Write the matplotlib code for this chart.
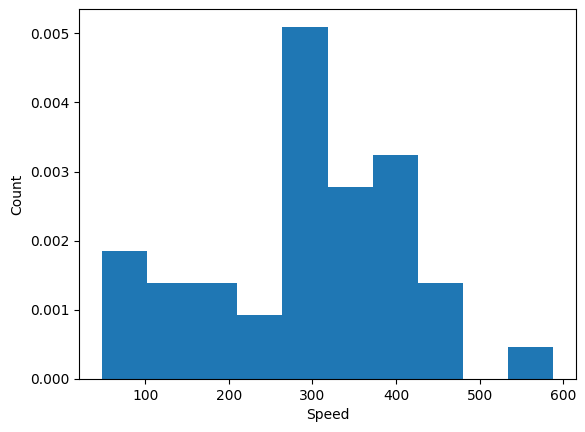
import matplotlib
matplotlib.use("Agg")
import matplotlib.pyplot as plt
import numpy as np

bin_edges = [48, 102, 156, 210, 264, 318, 372, 426, 480, 534, 588]
counts = [4, 3, 3, 2, 11, 6, 7, 3, 0, 1]

centers = [(a + b) / 2 for a, b in zip(bin_edges[:-1], bin_edges[1:])]

fig = plt.figure(figsize=(5.85, 4.32), dpi=100)
ax = fig.add_axes([79.3 / 585, (432 - 379) / 432, (575.7 - 79.3) / 585, (379 - 9.3) / 432])
ax.hist(centers, bins=bin_edges, weights=counts, density=True, color="#1f77b4")
ax.set_xlabel("Speed")
ax.set_ylabel("Count")
fig.savefig("out.png", dpi=100)
